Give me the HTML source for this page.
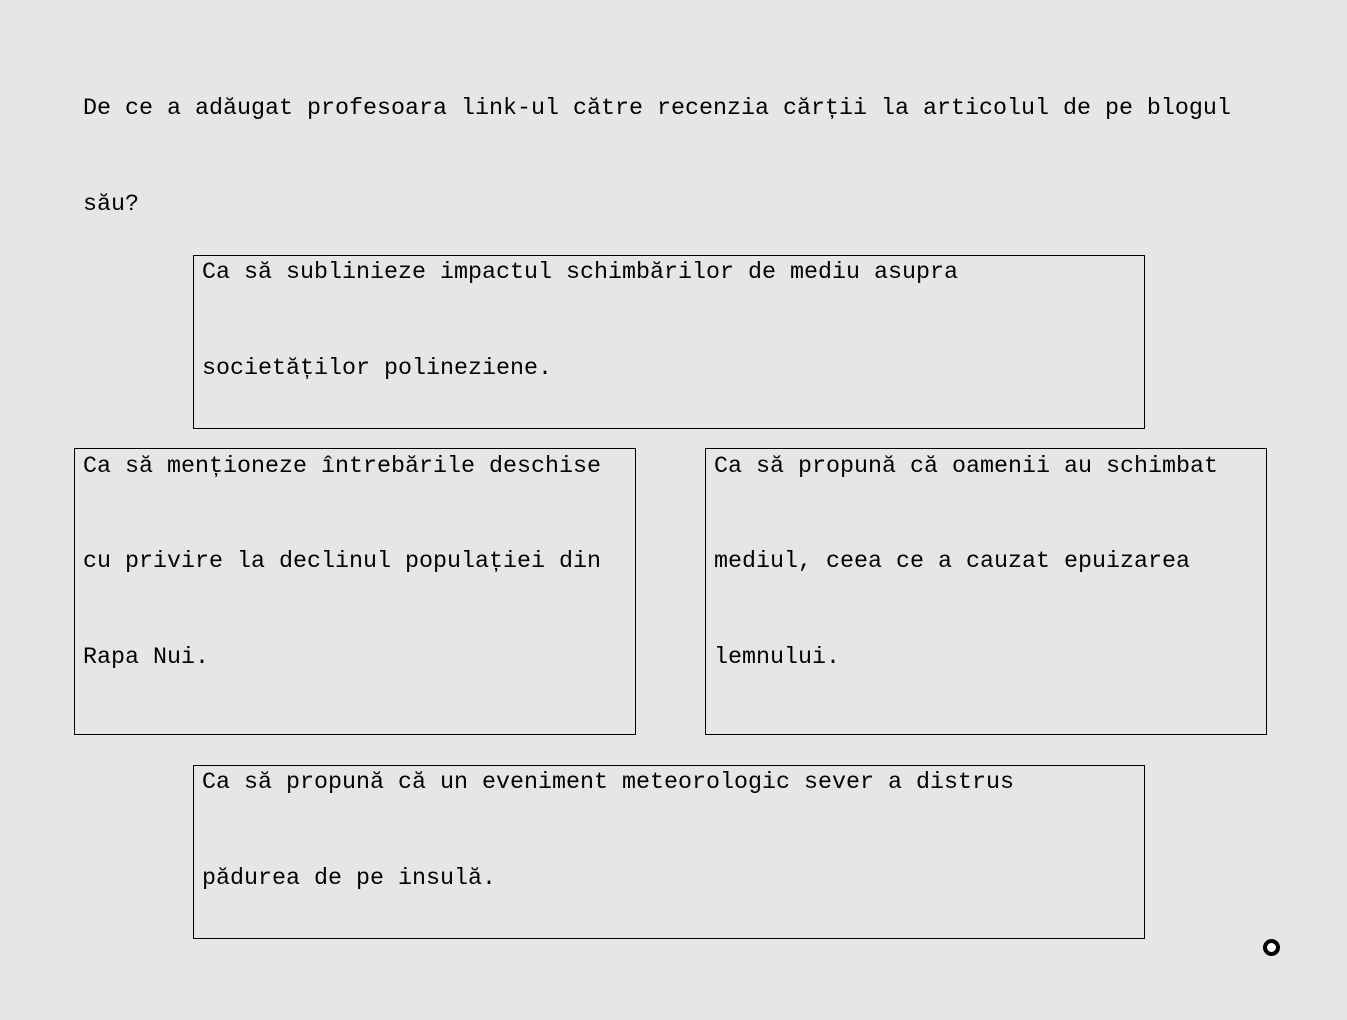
<!DOCTYPE html>
<html><head><meta charset="utf-8"><style>
body{margin:0;width:1347px;height:1020px;background:#e6e6e6;position:relative;overflow:hidden;font-family:"Liberation Mono",monospace;font-size:23.33px;color:#000}
.t{position:absolute;line-height:24px;white-space:pre}
.b{position:absolute;border:1px solid #000;box-sizing:border-box}
</style></head><body>
<div class="t" style="left:83px;top:97px">De ce a adăugat profesoara link-ul către recenzia cărții la articolul de pe blogul</div>
<div class="t" style="left:83px;top:193px">său?</div>
<div class="b" style="left:193px;top:255px;width:952px;height:174px"></div>
<div class="t" style="left:202px;top:261px">Ca să sublinieze impactul schimbărilor de mediu asupra</div>
<div class="t" style="left:202px;top:357px">societăților polineziene.</div>
<div class="b" style="left:74px;top:448px;width:562px;height:287px"></div>
<div class="t" style="left:83px;top:455px">Ca să menționeze întrebările deschise</div>
<div class="t" style="left:83px;top:550px">cu privire la declinul populației din</div>
<div class="t" style="left:83px;top:646px">Rapa Nui.</div>
<div class="b" style="left:705px;top:448px;width:562px;height:287px"></div>
<div class="t" style="left:714px;top:455px">Ca să propună că oamenii au schimbat</div>
<div class="t" style="left:714px;top:550px">mediul, ceea ce a cauzat epuizarea</div>
<div class="t" style="left:714px;top:646px">lemnului.</div>
<div class="b" style="left:193px;top:765px;width:952px;height:174px"></div>
<div class="t" style="left:202px;top:771px">Ca să propună că un eveniment meteorologic sever a distrus</div>
<div class="t" style="left:202px;top:867px">pădurea de pe insulă.</div>
<div style="position:absolute;left:1263px;top:939px;width:9px;height:9px;border:4px solid #000;border-radius:50%;background:#fff"></div>
</body></html>
